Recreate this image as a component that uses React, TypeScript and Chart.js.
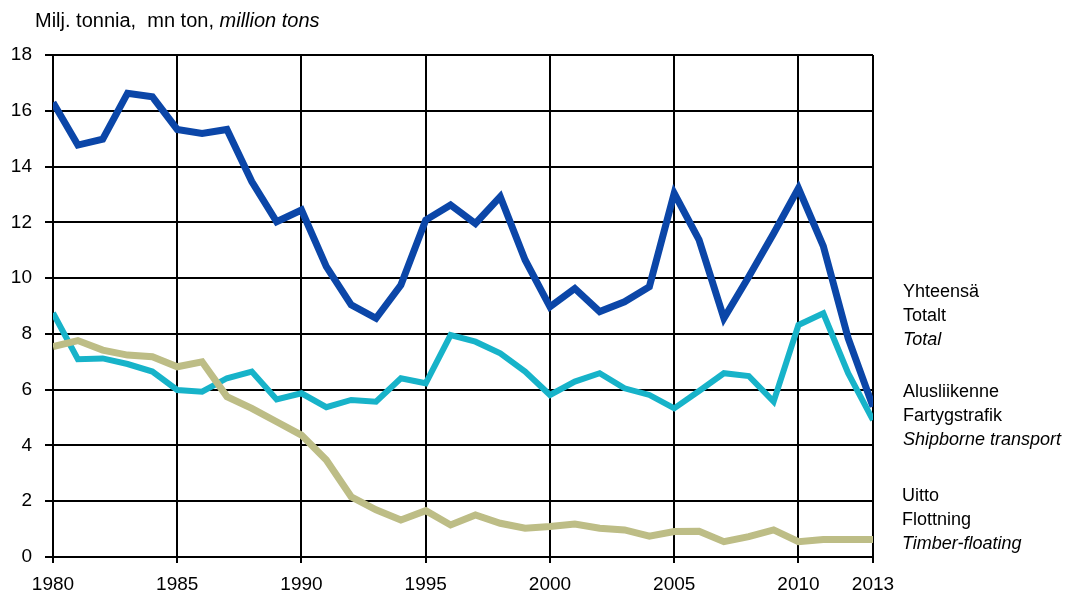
import React, { useEffect, useRef } from "react";
import { Chart, registerables } from "chart.js";

Chart.register(...registerables);

const years = [
  1980, 1981, 1982, 1983, 1984, 1985, 1986, 1987, 1988, 1989, 1990, 1991, 1992,
  1993, 1994, 1995, 1996, 1997, 1998, 1999, 2000, 2001, 2002, 2003, 2004, 2005,
  2006, 2007, 2008, 2009, 2010, 2011, 2012, 2013,
];

const total = [
  16.3, 14.77, 14.98, 16.63, 16.5, 15.33, 15.19, 15.33, 13.46, 12.02, 12.44,
  10.41, 9.04, 8.56, 9.75, 12.08, 12.62, 11.96, 12.92, 10.65, 8.97, 9.63, 8.8,
  9.15, 9.69, 13.04, 11.37, 8.56, 10.05, 11.6, 13.22, 11.15, 7.85, 5.39,
];

const shipborne = [
  8.75, 7.09, 7.12, 6.92, 6.65, 5.99, 5.93, 6.41, 6.65, 5.65, 5.87, 5.37, 5.63,
  5.57, 6.41, 6.23, 7.96, 7.72, 7.3, 6.65, 5.81, 6.29, 6.59, 6.05, 5.81, 5.33,
  5.95, 6.59, 6.49, 5.57, 8.32, 8.74, 6.59, 4.91,
];

const timber = [
  7.54, 7.76, 7.42, 7.24, 7.18, 6.82, 7.0, 5.75, 5.33, 4.85, 4.37, 3.48, 2.16,
  1.69, 1.33, 1.66, 1.15, 1.51, 1.21, 1.03, 1.09, 1.18, 1.03, 0.97, 0.75, 0.91,
  0.92, 0.55, 0.73, 0.97, 0.55, 0.63, 0.63, 0.63,
];

const xTicks = [1980, 1985, 1990, 1995, 2000, 2005, 2010, 2013];
const yMin = 0;
const yMax = 18;
const yStep = 2;

const titleParts = ["Milj. tonnia,", "mn ton,", "million tons"];
const legendTotal = ["Yhteensä", "Totalt", "Total"];
const legendShip = ["Alusliikenne", "Fartygstrafik", "Shipborne transport"];
const legendTimber = ["Uitto", "Flottning", "Timber-floating"];

const FONT = "'Liberation Sans', Arial, Helvetica, sans-serif";

function LegendBlock({ lines, top, left }: { lines: string[]; top: number; left: number }) {
  return (
    <div
      style={{
        position: "absolute",
        left,
        top,
        fontFamily: FONT,
        fontSize: 18,
        lineHeight: "24px",
        color: "#000",
        whiteSpace: "nowrap",
      }}
    >
      <div>{lines[0]}</div>
      <div>{lines[1]}</div>
      <div style={{ fontStyle: "italic" }}>{lines[2]}</div>
    </div>
  );
}

export default function App() {
  const canvasRef = useRef<HTMLCanvasElement | null>(null);

  useEffect(() => {
    const canvas = canvasRef.current;
    if (!canvas) return;
    const mk = (arr: number[]) => years.map((y, i) => ({ x: y, y: arr[i] }));
    const chart = new Chart(canvas, {
      type: "line",
      data: {
        datasets: [
          {
            label: "Total",
            data: mk(total),
            borderColor: "#0b46a8",
            borderWidth: 7,
            pointRadius: 0,
            tension: 0,
            order: 3,
          },
          {
            label: "Shipborne",
            data: mk(shipborne),
            borderColor: "#17b3c9",
            borderWidth: 6,
            pointRadius: 0,
            tension: 0,
            order: 2,
          },
          {
            label: "Timber",
            data: mk(timber),
            borderColor: "#bdbd86",
            borderWidth: 7,
            pointRadius: 0,
            tension: 0,
            order: 1,
          },
        ],
      },
      options: {
        animation: false,
        responsive: false,
        maintainAspectRatio: false,
        layout: { padding: { left: 0, top: 55, right: 192, bottom: 0 } },
        plugins: {
          legend: { display: false },
          title: { display: false },
          tooltip: { enabled: false },
        },
        scales: {
          x: {
            type: "linear",
            min: 1980,
            max: 2013,
            afterBuildTicks: (scale: any) => {
              scale.ticks = xTicks.map((v) => ({ value: v }));
            },
            afterFit: (scale: any) => {
              scale.height = 39;
            },
            grid: {
              color: "#000",
              lineWidth: 2,
              drawTicks: true,
              tickLength: 6,
              tickColor: "#000",
            },
            border: { color: "#000", width: 2 },
            ticks: {
              autoSkip: false,
              maxRotation: 0,
              padding: 10,
              color: "#000",
              font: { family: FONT, size: 19 },
              callback: (v: any) => String(v),
            },
          },
          y: {
            min: yMin,
            max: yMax,
            afterFit: (scale: any) => {
              scale.width = 53;
            },
            grid: {
              color: "#000",
              lineWidth: 2,
              drawTicks: true,
              tickLength: 8,
              tickColor: "#000",
            },
            border: { color: "#000", width: 2 },
            ticks: {
              stepSize: yStep,
              padding: 13,
              color: "#000",
              font: { family: FONT, size: 19 },
            },
          },
        },
      },
    } as any);
    return () => chart.destroy();
  }, []);

  return (
    <div
      style={{
        position: "absolute",
        left: 0,
        top: 0,
        width: 1065,
        height: 596,
        background: "#fff",
        overflow: "hidden",
      }}
    >
      <canvas
        ref={canvasRef}
        width={1065}
        height={596}
        style={{ position: "absolute", left: 0, top: 0, width: 1065, height: 596 }}
      />
      <div
        style={{
          position: "absolute",
          left: 35,
          top: 8,
          fontFamily: FONT,
          fontSize: 20,
          lineHeight: "24px",
          color: "#000",
          whiteSpace: "pre",
        }}
      >
        {titleParts[0] + "  " + titleParts[1] + " "}
        <span style={{ fontStyle: "italic" }}>{titleParts[2]}</span>
      </div>
      <LegendBlock lines={legendTotal} top={279} left={903} />
      <LegendBlock lines={legendShip} top={379} left={903} />
      <LegendBlock lines={legendTimber} top={483} left={902} />
    </div>
  );
}
